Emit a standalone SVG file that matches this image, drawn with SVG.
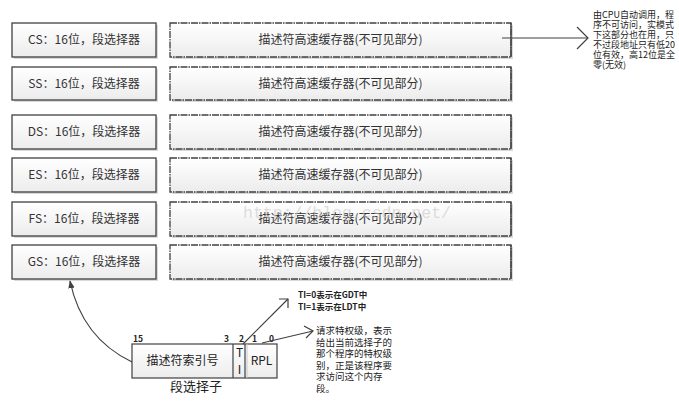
<svg xmlns="http://www.w3.org/2000/svg" width="679" height="401" viewBox="0 0 679 401">
<defs>
<linearGradient id="g" x1="0" y1="0" x2="0" y2="1">
<stop offset="0" stop-color="#ffffff"/>
<stop offset="1" stop-color="#ececec"/>
</linearGradient>
<marker id="tri" viewBox="0 0 10 10" refX="9" refY="5" markerWidth="8" markerHeight="8" orient="auto" markerUnits="userSpaceOnUse">
<path d="M0,1 L10,5 L0,9 Z" fill="#404040"/>
</marker>
</defs>
<style>
.reg{fill:url(#g);stroke:#404040;stroke-width:1.3}
.cache{fill:url(#g);stroke:#404040;stroke-width:1.3;stroke-dasharray:7,1,1.5,1}
.sh{fill:#d9d9d9}
.t{font-family:"Noto Sans CJK SC","Liberation Sans",sans-serif;font-size:12px;fill:#333;text-anchor:middle}
.n{font-family:"Noto Sans CJK SC","Liberation Sans",sans-serif;font-size:12px;fill:#222;text-anchor:middle}
.small{font-family:"Noto Sans CJK SC","Liberation Sans",sans-serif;font-size:8.5px;font-weight:bold;fill:#222}
.note{font-family:"Noto Sans CJK SC","Liberation Sans",sans-serif;font-size:9px;fill:#222}
.note2{font-family:"Noto Sans CJK SC","Liberation Sans",sans-serif;font-size:9.5px;fill:#222}
.ln{fill:none;stroke:#404040;stroke-width:1.2}
</style>
<rect width="679" height="401" fill="#ffffff"/>

<g id="cs">
<rect class="sh" x="14" y="25" width="144" height="34"/>
<rect class="reg" x="12" y="23" width="144" height="34"/>
<text class="t" x="84" y="44">CS：16位，段选择器</text>
</g>
<g id="cs-cache">
<rect class="sh" x="172" y="25" width="341" height="34"/>
<rect class="cache" x="170" y="23" width="341" height="34"/>
<line x1="511" y1="23" x2="511" y2="57" stroke="#404040" stroke-width="1.3"/>
<text class="t" x="340.5" y="44">描述符高速缓存器(不可见部分)</text>
</g>
<g id="ss">
<rect class="sh" x="14" y="69" width="144" height="33"/>
<rect class="reg" x="12" y="67" width="144" height="33"/>
<text class="t" x="84" y="88">SS：16位，段选择器</text>
</g>
<g id="ss-cache">
<rect class="sh" x="172" y="69" width="341" height="33"/>
<rect class="cache" x="170" y="67" width="341" height="33"/>
<line x1="511" y1="67" x2="511" y2="100" stroke="#404040" stroke-width="1.3"/>
<text class="t" x="340.5" y="88">描述符高速缓存器(不可见部分)</text>
</g>
<g id="ds">
<rect class="sh" x="14" y="117" width="144" height="34"/>
<rect class="reg" x="12" y="115" width="144" height="34"/>
<text class="t" x="84" y="136">DS：16位，段选择器</text>
</g>
<g id="ds-cache">
<rect class="sh" x="172" y="117" width="341" height="34"/>
<rect class="cache" x="170" y="115" width="341" height="34"/>
<line x1="511" y1="115" x2="511" y2="149" stroke="#404040" stroke-width="1.3"/>
<text class="t" x="340.5" y="136">描述符高速缓存器(不可见部分)</text>
</g>
<g id="es">
<rect class="sh" x="14" y="160" width="144" height="34"/>
<rect class="reg" x="12" y="158" width="144" height="34"/>
<text class="t" x="84" y="179">ES：16位，段选择器</text>
</g>
<g id="es-cache">
<rect class="sh" x="172" y="160" width="341" height="34"/>
<rect class="cache" x="170" y="158" width="341" height="34"/>
<line x1="511" y1="158" x2="511" y2="192" stroke="#404040" stroke-width="1.3"/>
<text class="t" x="340.5" y="179">描述符高速缓存器(不可见部分)</text>
</g>
<g id="fs">
<rect class="sh" x="14" y="204" width="144" height="34"/>
<rect class="reg" x="12" y="202" width="144" height="34"/>
<text class="t" x="84" y="223">FS：16位，段选择器</text>
</g>
<g id="fs-cache">
<rect class="sh" x="172" y="204" width="341" height="34"/>
<rect class="cache" x="170" y="202" width="341" height="34"/>
<line x1="511" y1="202" x2="511" y2="236" stroke="#404040" stroke-width="1.3"/>
<text class="t" x="340.5" y="223">描述符高速缓存器(不可见部分)</text>
</g>
<g id="gs">
<rect class="sh" x="14" y="247" width="144" height="34"/>
<rect class="reg" x="12" y="245" width="144" height="34"/>
<text class="t" x="84" y="266">GS：16位，段选择器</text>
</g>
<g id="gs-cache">
<rect class="sh" x="172" y="247" width="341" height="34"/>
<rect class="cache" x="170" y="245" width="341" height="34"/>
<line x1="511" y1="245" x2="511" y2="279" stroke="#404040" stroke-width="1.3"/>
<text class="t" x="340.5" y="266">描述符高速缓存器(不可见部分)</text>
</g>

<text x="243" y="218" font-family="Liberation Mono,monospace" font-size="16.5px" fill="#c8c8c8" fill-opacity="0.6">http://blog.csdn.net/</text>

<g id="selector">
<rect x="132" y="344" width="145" height="34" fill="url(#g)" stroke="#404040" stroke-width="1.2"/>
<line x1="233" y1="344" x2="233" y2="378" stroke="#404040" stroke-width="1.2"/>
<line x1="245" y1="344" x2="245" y2="378" stroke="#404040" stroke-width="1.2"/>
<line x1="247" y1="344" x2="247" y2="378" stroke="#c8c8c8" stroke-width="1"/>
<text class="n" x="182.5" y="365">描述符索引号</text>
<text class="n" x="239.5" y="357">T</text>
<text class="n" x="239.5" y="374">I</text>
<text class="n" x="261.5" y="365">RPL</text>
<text class="small" x="133" y="342">15</text>
<text class="small" x="224" y="342">3</text>
<text class="small" x="239" y="342">2</text>
<text class="small" x="252" y="342">1</text>
<text class="small" x="269" y="342">0</text>
<text class="t" x="196" y="391" style="font-size:13px;fill:#222">段选择子</text>
</g>

<g id="note-cpu">
<text class="note" x="593" y="18">由CPU自动调用，程</text>
<text class="note" x="593" y="28">序不可访问，实模式</text>
<text class="note" x="593" y="38">下这部分也在用，只</text>
<text class="note" x="593" y="48">不过段地址只有低20</text>
<text class="note" x="593" y="58">位有效，高12位是全</text>
<text class="note" x="593" y="68">零(无效)</text>
</g>
<g id="note-ti">
<text class="small" x="298" y="298">TI=0表示在GDT中</text>
<text class="small" x="298" y="310">TI=1表示在LDT中</text>
</g>
<g id="note-rpl">
<text class="note2" x="316" y="334">请求特权级，表示</text>
<text class="note2" x="316" y="345.5">给出当前选择子的</text>
<text class="note2" x="316" y="357">那个程序的特权级</text>
<text class="note2" x="316" y="368.5">别，正是该程序要</text>
<text class="note2" x="316" y="380">求访问这个内存</text>
<text class="note2" x="316" y="391.5">段。</text>
</g>

<g id="connectors">
<line class="ln" x1="502" y1="38" x2="588" y2="38"/>
<polyline class="ln" points="577,27 588,38 577,49"/>
<line class="ln" x1="243" y1="344" x2="288" y2="299"/>
<polyline class="ln" points="279,299 288,299 288,308"/>
<line class="ln" x1="262" y1="343" x2="313" y2="331"/>
<polyline class="ln" points="304,326 313,331 306,338"/>
<path class="ln" d="M132,362 Q82,338 70,281" marker-end="url(#tri)"/>
</g>
</svg>
